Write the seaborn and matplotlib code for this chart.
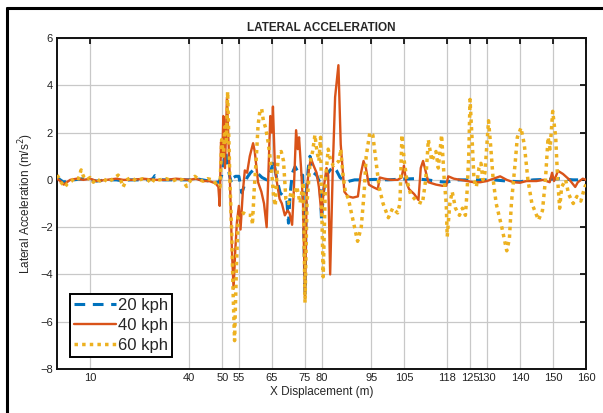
import matplotlib
matplotlib.use("Agg")
import matplotlib.pyplot as plt
import seaborn as sns
import pandas as pd
from matplotlib.lines import Line2D

sns.set_style("white")
plt.rcParams['font.family'] = ['Liberation Sans', 'DejaVu Sans']

# ---------------- data ----------------
x20 = [0, 1, 2, 3, 5, 8, 10, 12, 15, 18, 20, 22, 25, 28, 29, 29.6, 30.5, 32, 35, 38, 40, 42, 44, 46, 48, 49,
       49.8, 50.5, 51, 51.6, 52.3, 52.8, 53.4, 54, 55, 55.9, 56.5, 57.5, 58.5, 59.4, 60.5, 62, 63.4, 64.5,
       65.5, 66.5, 67.5, 68.5, 69.5, 70, 70.5, 71.2, 72, 73, 73.5, 74.3, 75, 75.4, 76, 76.5, 77.6, 78.5,
       79.5, 80, 80.6, 81.5, 82.5, 83.6, 84.5, 85.6, 86.5, 87.6, 88.5, 90, 93, 96, 100, 104, 108, 112, 116,
       118, 120, 124, 128, 132, 136, 140, 144, 148, 152, 156, 160]
y20 = [0.1, 0, -0.1, -0.05, 0, 0.05, 0, -0.05, 0, 0, -0.05, 0, 0, 0, 0.05, 0.18, 0.1, 0, 0, 0, 0, 0.05, 0,
       -0.05, -0.1, -0.1, 0.2, 0.8, 1.2, 0.6, 0.1, -0.15, 0.1, 0.15, 0.15, -0.55, -0.3, 0.1, 0.3, 0.42,
       0.3, 0.1, 0, 0.3, 0.8, 0, -0.55, -0.7, -0.85, -1.83, -0.6, 0.3, 0.56, 0.3, 0.14, 0.2, -4.8, -0.5,
       0.5, 1.0, 0.3, 0.2, -0.13, -1.7, -0.5, 0.2, 0.4, 0.56, 0.4, 0.1, 0, -0.1, -0.05, 0, 0, 0.02, 0,
       0.03, 0.05, 0, -0.08, -0.1, 0, 0, 0, 0, -0.05, -0.08, 0, 0.02, 0.05, 0, 0]

x40 = [0, 1, 2, 3, 4, 6, 8, 10, 12, 15, 18, 20, 23, 26, 30, 33, 36, 40, 42, 44, 46, 48, 48.8, 49.2, 49.6,
       50.0, 50.3, 50.8, 51.4, 51.9, 52.4, 52.9, 53.4, 53.9, 54.4, 55.0, 55.5, 56.2, 56.8, 57.5, 58.3,
       59.3, 59.8, 60.8, 61.8, 62.6, 63.4, 63.9, 64.5, 65.0, 65.3, 65.9, 66.5, 67.3, 68.0, 68.9, 69.7,
       70.3, 71.1, 71.6, 72.3, 72.8, 73.2, 73.8, 74.4, 75.0, 75.5, 76.2, 76.8, 77.6, 78.5, 79.2, 80.0,
       80.8, 81.5, 82.0, 82.6, 83.4, 84.1, 85.1, 85.8, 86.9, 88.0, 89.5, 91.0, 91.8, 92.7, 93.4, 94.3,
       95.5, 97.0, 97.6, 99, 101, 103, 104.2, 104.9, 105.6, 106.5, 108.0, 109.3, 110.0, 110.7, 111.4,
       112.3, 114.6, 116.5, 117.7, 118.3, 120, 122, 124, 126, 128, 130, 132, 134, 136, 138, 140, 142,
       145, 147, 149, 149.7, 150.3, 151.5, 153, 155, 156.7, 157.5, 159, 160]
y40 = [0.05, -0.05, -0.2, -0.1, 0, 0.05, 0, 0.05, -0.05, 0, 0.05, 0, 0, 0.05, 0, 0, 0.05, 0, 0.05, -0.05,
       -0.05, -0.15, -0.3, -1.1, 1.6, 1.0, 2.7, 0.5, 3.5, 1.5, -0.5, -3.0, -4.6, -3.0, -1.8, -1.1, -2.1,
       -0.5, 0.4, 0.3, 1.0, 1.55, 1.2, -0.1, -0.5, -1.0, -2.0, 0.2, 2.7, 2.0, 3.1, 0.5, -0.1, -0.8, -1.0,
       -1.5, -1.3, -1.4, -1.9, -0.5, 2.1, 1.3, 1.8, 0.5, -1.0, -5.0, -0.5, 0.5, 0.9, 0.6, 0.3, -0.3, -1.5,
       -0.2, 0.5, 0.2, -4.0, 0.5, 3.5, 4.85, 1.5, -0.5, -0.7, -0.75, -0.7, 0.2, 0.8, 0.5, -0.2, -0.3,
       -0.4, 0.1, 0.05, 0, 0, 0.1, 0.6, -0.1, -0.4, -0.6, -0.85, 0.5, 0.8, 0.4, -0.1, -0.2, -0.25, -0.25,
       0.15, 0.05, 0, -0.05, -0.1, -0.1, -0.05, 0.05, 0.15, 0, -0.1, -0.12, -0.05, -0.05, 0, -0.1, 0.3,
       -0.05, 0.38, 0.25, 0, -0.3, -0.1, 0.05, 0]

x60 = [0, 0.5, 1.2, 2.4, 3.2, 4.4, 5.5, 6.5, 7.3, 8, 9, 10, 11, 12, 13, 14, 15.5, 17, 18.5, 19, 20, 21,
       22.5, 24, 26, 27.5, 28.6, 29.5, 31, 33, 35, 36.5, 38, 39.2, 40.5, 41.7, 43, 44.2, 45.5, 47, 48.3,
       49.3, 49.8, 50.3, 50.8, 51.2, 51.6, 52.0, 52.3, 52.8, 53.3, 53.7, 54.3, 54.8, 55.5, 56.4, 57.5,
       58.9, 59.1, 59.6, 60.3, 60.8, 61.4, 61.9, 62.4, 63.1, 63.9, 64.9, 65.5, 66.0, 66.5, 67.0, 67.8,
       68.5, 69.2, 70, 70.8, 71.5, 72.5, 73.5, 74.5, 75.0, 75.6, 76.5, 77.3, 78.0, 78.6, 79.2, 79.7,
       80.1, 80.5, 81.2, 82.0, 82.8, 83.6, 84.4, 85.3, 85.8, 86.5, 87.2, 88.1, 89.2, 90.9, 92.0, 92.9,
       93.5, 94.6, 95.5, 96.7, 97.4, 98.6, 100.2, 101.5, 103.0, 103.7, 104.3, 105.0, 105.8, 106.9, 108.7,
       110.5, 111.5, 112.3, 113.3, 114.6, 115.3, 116.3, 117.1, 117.7, 118.0, 118.8, 119.5, 120.5, 121.7,
       122.6, 123.5, 124.0, 124.5, 124.9, 125.6, 126.1, 126.8, 127.6, 128.2, 128.8, 129.4, 130.5, 131.1,
       131.9, 132.8, 134.5, 136.0, 136.8, 137.4, 138.6, 139.2, 140.3, 141.3, 142.4, 143.6, 145.6, 146.8,
       147.7, 148.5, 149.1, 149.9, 150.8, 151.4, 152.0, 152.6, 153.8, 154.7, 156.1, 157.2, 158.4, 159.6,
       160]
y60 = [0.2, 0.1, -0.1, -0.3, -0.15, -0.05, 0.1, 0.05, 0.42, 0.15, 0, 0.1, -0.1, 0.05, -0.05, 0.05, -0.1,
       0.05, 0.2, 0.1, -0.3, 0, 0.1, -0.05, 0.05, 0, -0.15, 0.05, 0, 0.05, -0.05, 0.05, 0, -0.28, 0, 0.15,
       0, -0.05, 0.05, 0, -0.2, -0.3, 1.7, 1.0, 2.25, 1.5, 3.73, 1.5, -0.1, -2.1, -5.0, -6.8, -3.5, -1.55,
       -1.5, -1.4, -1.5, -1.5, -1.9, -0.5, 1.0, 2.3, 2.96, 3.0, 2.5, 2.2, 1.55, 0.4, -0.7, -1.1, 0.2, 1.13,
       1.2, 0.8, -0.8, -1.0, -0.5, -0.7, -0.28, -0.98, -0.1, -5.2, -1.0, 0.7, 1.2, 1.9, 1.2, 0.8, 1.8,
       -1.5, -4.1, 0.0, 1.3, 0.8, 0.6, 0.7, 0.8, 1.3, 0.2, -0.5, -0.8, -1.5, -2.6, -2.0, -0.5, 1.0, 2.0,
       1.9, 0.5, -0.3, -1.0, -1.6, -1.2, -1.4, -1.0, 1.9, 0.8, 0.0, -0.6, -0.9, -1.0, 0.0, 1.7, 0.8, 1.2,
       0.5, 1.9, 0.0, -1.0, -2.4, -1.0, -0.5, -1.2, -1.5, -1.2, -1.5, -0.5, 1.0, 3.4, 1.5, 0.0, -0.3,
       0.5, 0.7, 0.0, 0.3, 2.5, 1.5, 0.0, -1.0, -2.0, -3.0, -2.5, -1.0, 0.8, 1.8, 2.2, 1.5, 0.0, -1.0,
       -1.7, -1.3, 0.0, 1.8, 1.3, 2.9, 1.8, 0.0, -1.2, -0.3, 0.0, -0.6, -1.0, -0.7, -0.9, -0.3, -0.2]

xticks = [10, 40, 50, 55, 65, 75, 80, 95, 105, 118, 125, 130, 140, 150, 160]
yticks = [-8, -6, -4, -2, 0, 2, 4, 6]
labels = ["20 kph", "40 kph", "60 kph"]
colors = ["#0072BD", "#D95319", "#EDB120"]

# ---------------- plot ----------------
fig = plt.figure(figsize=(6.03, 4.13), dpi=100)
ax = fig.add_axes([0.0945, 0.1065, 0.8775, 0.8015])

d20 = pd.DataFrame({"x": x20, "y": y20})
d40 = pd.DataFrame({"x": x40, "y": y40})
d60 = pd.DataFrame({"x": x60, "y": y60})

sns.lineplot(data=d20, x="x", y="y", ax=ax, color=colors[0], linewidth=2.2,
             estimator=None, sort=False, linestyle=(0, (3.5, 2.5)), zorder=3)
sns.lineplot(data=d40, x="x", y="y", ax=ax, color=colors[1], linewidth=1.7,
             estimator=None, sort=False, zorder=4)
sns.lineplot(data=d60, x="x", y="y", ax=ax, color=colors[2], linewidth=2.5,
             estimator=None, sort=False, linestyle=(0, (1, 1.2)), zorder=5)

ax.set_xlim(0, 160)
ax.set_ylim(-8, 6)
ax.set_xticks(xticks)
ax.set_xticklabels([str(t) for t in xticks])
ax.set_yticks(yticks)
ax.tick_params(direction="in", length=4, width=1.2, top=True, right=True,
               labelsize=8, colors="black", pad=3)
ax.tick_params(axis="x", labelcolor="#222222")
ax.tick_params(axis="y", labelcolor="#222222")
ax.grid(True, color="#c8c8c8", linewidth=0.9)
ax.set_axisbelow(True)
for s in ax.spines.values():
    s.set_color("#111111")
    s.set_linewidth(1.4)

ax.set_title("LATERAL ACCELERATION", fontsize=8.5, fontweight="bold", pad=5)
ax.set_xlabel("X Displacement (m)", fontsize=8.5, labelpad=2)
ax.set_ylabel("Lateral Acceleration (m/s$^2$)", fontsize=8.5, labelpad=3)

handles = [
    Line2D([], [], color=colors[0], linewidth=2.2, linestyle=(0, (3.5, 2.5))),
    Line2D([], [], color=colors[1], linewidth=1.7),
    Line2D([], [], color=colors[2], linewidth=2.5, linestyle=(0, (1, 1.2))),
]
leg = ax.legend(handles, labels, loc="lower left", bbox_to_anchor=(0.025, 0.036),
                borderaxespad=0, fontsize=12, handlelength=2.5, handletextpad=0.1,
                labelspacing=0.3, borderpad=0.25, fancybox=False, framealpha=1,
                edgecolor="black")
leg.get_frame().set_linewidth(1.4)

# outer black frame of the screenshot
fig.add_artist(Line2D([7 / 603, 7 / 603], [0, 1 - 8 / 413], transform=fig.transFigure,
                      color="black", linewidth=2.2))
fig.add_artist(Line2D([7 / 603, 1], [1 - 8 / 413, 1 - 8 / 413], transform=fig.transFigure,
                      color="black", linewidth=2.2))

fig.savefig("out.png", dpi=100)
